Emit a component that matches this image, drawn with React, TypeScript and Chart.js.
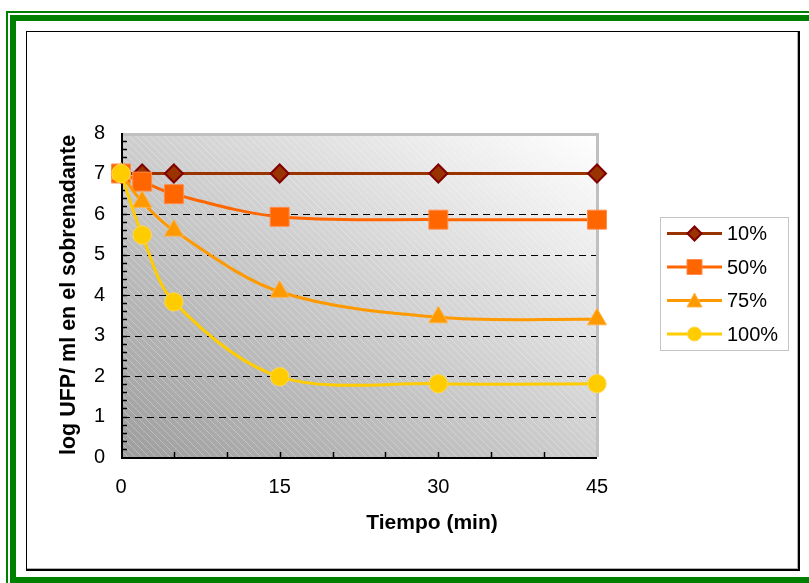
import React, { useEffect, useRef } from "react";
import { Chart, registerables } from "chart.js";

Chart.register(...registerables);

// Tiempo de muestreo (min)
const tiempos = [0, 2, 5, 15, 30, 45];
// log UFP/ml en el sobrenadante, una serie por concentración
const serie10 = [7, 7, 7, 7, 7, 7];
const serie50 = [7, 6.8, 6.49, 5.93, 5.86, 5.86];
const serie75 = [7, 6.3, 5.59, 4.08, 3.45, 3.4];
const serie100 = [7, 5.48, 3.83, 1.98, 1.81, 1.81];
const nombres = ["10%", "50%", "75%", "100%"];
const etiquetasX = [0, 15, 30, 45];
const etiquetasY = [0, 1, 2, 3, 4, 5, 6, 7, 8];

const FUENTE = '"Liberation Sans", Arial, Helvetica, sans-serif';

type Forma = "rectRot" | "rect" | "triangle" | "circle";

const estilos: { color: string; relleno: string; borde: string; forma: Forma; radio: number; bordeAncho: number }[] = [
  { color: "#993300", relleno: "#993300", borde: "#800000", forma: "rectRot", radio: 9, bordeAncho: 2 },
  { color: "#FF6600", relleno: "#FF6600", borde: "#FF8C4A", forma: "rect", radio: 13.4, bordeAncho: 1 },
  { color: "#FF9900", relleno: "#FF9900", borde: "#FFB347", forma: "triangle", radio: 11, bordeAncho: 1 },
  { color: "#FFCC00", relleno: "#FFCC00", borde: "#FFD84D", forma: "circle", radio: 9.2, bordeAncho: 1 },
];

const series = [serie10, serie50, serie75, serie100];

function marcador(ctx: CanvasRenderingContext2D, forma: Forma, cx: number, cy: number, tam: number) {
  ctx.beginPath();
  if (forma === "rectRot") {
    const r = tam / 2;
    ctx.moveTo(cx - r, cy);
    ctx.lineTo(cx, cy - r);
    ctx.lineTo(cx + r, cy);
    ctx.lineTo(cx, cy + r);
    ctx.closePath();
  } else if (forma === "rect") {
    ctx.rect(cx - tam / 2, cy - tam / 2, tam, tam);
  } else if (forma === "triangle") {
    const h = (tam * Math.sqrt(3)) / 2;
    ctx.moveTo(cx, cy - h / 2 - 1);
    ctx.lineTo(cx + tam / 2, cy + h / 2);
    ctx.lineTo(cx - tam / 2, cy + h / 2);
    ctx.closePath();
  } else {
    ctx.arc(cx, cy, tam / 2, 0, Math.PI * 2);
  }
}

const decorado = {
  id: "decorado",
  beforeDatasetsDraw(chart: any) {
    const { ctx, chartArea: a } = chart;
    const x = chart.scales.x;
    const y = chart.scales.y;
    ctx.save();

    // fondo degradado en diagonal
    ctx.save();
    ctx.translate(a.left, a.top);
    ctx.scale(a.right - a.left, a.bottom - a.top);
    const g = ctx.createLinearGradient(0, 1, 1, 0);
    g.addColorStop(0, "#9d9d9d");
    g.addColorStop(1, "#ffffff");
    ctx.fillStyle = g;
    ctx.fillRect(0, 0, 1, 1);
    ctx.restore();

    // rayado diagonal tenue
    ctx.save();
    ctx.beginPath();
    ctx.rect(a.left, a.top, a.right - a.left, a.bottom - a.top);
    ctx.clip();
    ctx.strokeStyle = "rgba(255,255,255,0.28)";
    ctx.lineWidth = 1;
    ctx.beginPath();
    const alto = a.bottom - a.top;
    for (let k = -alto; k < a.right - a.left; k += 7) {
      ctx.moveTo(a.left + k, a.top);
      ctx.lineTo(a.left + k + alto, a.bottom);
    }
    ctx.stroke();
    ctx.restore();

    // líneas de división discontinuas
    ctx.strokeStyle = "#000";
    ctx.lineWidth = 1;
    ctx.setLineDash([7, 5]);
    for (const v of etiquetasY) {
      if (v === y.min || v === y.max) continue;
      const py = Math.round(y.getPixelForValue(v)) + 0.5;
      ctx.beginPath();
      ctx.moveTo(a.left + 2, py);
      ctx.lineTo(a.right - 1, py);
      ctx.stroke();
    }
    ctx.setLineDash([]);

    // borde gris superior y derecho
    ctx.strokeStyle = "#c0c0c0";
    ctx.lineWidth = 3;
    ctx.beginPath();
    ctx.moveTo(a.left, a.top + 1.5);
    ctx.lineTo(a.right + 0.5, a.top + 1.5);
    ctx.lineTo(a.right + 0.5, a.bottom);
    ctx.stroke();

    // ejes
    ctx.strokeStyle = "#000";
    ctx.lineWidth = 2;
    ctx.beginPath();
    ctx.moveTo(a.left + 1, a.top);
    ctx.lineTo(a.left + 1, a.bottom + 1);
    ctx.lineTo(a.right, a.bottom + 1);
    ctx.stroke();

    // marcas secundarias del eje Y (cada 0,2)
    ctx.lineWidth = 1.5;
    ctx.beginPath();
    for (let i = 1; i < 40; i++) {
      const py = Math.round(y.getPixelForValue(i * 0.2)) + 0.5;
      ctx.moveTo(a.left, py);
      ctx.lineTo(a.left + 6, py);
    }
    ctx.stroke();

    // marcas del eje X (cada 5 min)
    ctx.lineWidth = 1.5;
    ctx.beginPath();
    for (let t = 5; t < 45; t += 5) {
      const px = Math.round(x.getPixelForValue(t)) + 0.5;
      ctx.moveTo(px, a.bottom);
      ctx.lineTo(px, a.bottom - 5);
    }
    ctx.stroke();

    ctx.restore();
  },
  afterDraw(chart: any) {
    const { ctx } = chart;
    ctx.save();

    // título del eje X
    ctx.fillStyle = "#000";
    ctx.font = `bold 21px ${FUENTE}`;
    ctx.textAlign = "center";
    ctx.textBaseline = "alphabetic";
    ctx.fillText("Tiempo (min)", 432, 529);

    // leyenda
    const lx = 660, ly = 217, lw = 128, lh = 133;
    ctx.fillStyle = "#fff";
    ctx.fillRect(lx, ly, lw, lh);
    ctx.strokeStyle = "#c4c4c4";
    ctx.lineWidth = 1;
    ctx.strokeRect(lx + 0.5, ly + 0.5, lw, lh);
    ctx.font = `20px ${FUENTE}`;
    ctx.textAlign = "left";
    ctx.textBaseline = "middle";
    nombres.forEach((nombre, i) => {
      const e = estilos[i];
      const fy = ly + 16.5 + i * 33.5;
      ctx.strokeStyle = e.color;
      ctx.lineWidth = 3;
      ctx.beginPath();
      ctx.moveTo(lx + 7, fy);
      ctx.lineTo(lx + 62, fy);
      ctx.stroke();
      const tam = e.forma === "rect" ? 15 : e.forma === "triangle" ? 15 : 14;
      marcador(ctx, e.forma, lx + 34.5, fy, tam);
      ctx.fillStyle = e.relleno;
      ctx.fill();
      ctx.strokeStyle = e.borde;
      ctx.lineWidth = e.bordeAncho;
      ctx.stroke();
      ctx.fillStyle = "#000";
      ctx.fillText(nombre, lx + 67, fy + 1);
    });

    ctx.restore();
  },
};

export default function App() {
  const ref = useRef<HTMLCanvasElement | null>(null);

  useEffect(() => {
    if (!ref.current) return;
    const chart = new Chart(ref.current, {
      type: "line",
      data: {
        datasets: series.map((s, i) => ({
          label: nombres[i],
          data: tiempos.map((t, j) => ({ x: t, y: s[j] })),
          borderColor: estilos[i].color,
          borderWidth: 3,
          backgroundColor: estilos[i].relleno,
          pointBackgroundColor: estilos[i].relleno,
          pointBorderColor: estilos[i].borde,
          pointBorderWidth: estilos[i].bordeAncho,
          pointStyle: estilos[i].forma,
          pointRadius: estilos[i].radio,
          pointHoverRadius: estilos[i].radio,
          tension: 0.33,
          fill: false,
          clip: false as any,
          order: series.length - 1 - i,
        })),
      },
      options: {
        responsive: false,
        animation: false,
        devicePixelRatio: 1,
        layout: { padding: { top: 133, right: 212, left: 0, bottom: 0 } },
        plugins: { legend: { display: false }, tooltip: { enabled: false } },
        events: [],
        scales: {
          x: {
            type: "linear",
            min: 0,
            max: 45,
            afterBuildTicks: (s: any) => {
              s.ticks = etiquetasX.map((v) => ({ value: v }));
            },
            afterFit: (s: any) => {
              s.height = 126;
            },
            grid: { display: false, drawTicks: false },
            border: { display: false },
            ticks: {
              padding: 18,
              maxRotation: 0,
              autoSkip: false,
              color: "#000",
              font: { size: 20, family: FUENTE },
            },
          },
          y: {
            type: "linear",
            min: 0,
            max: 8,
            afterBuildTicks: (s: any) => {
              s.ticks = etiquetasY.map((v) => ({ value: v }));
            },
            afterFit: (s: any) => {
              s.width = 121;
            },
            grid: { display: false, drawTicks: false },
            border: { display: false },
            ticks: {
              padding: 16,
              autoSkip: false,
              color: "#000",
              font: { size: 20, family: FUENTE },
            },
            title: {
              display: true,
              text: "log UFP/ ml en el sobrenadante",
              color: "#000",
              font: { size: 21.5, weight: "bold", family: FUENTE },
              padding: { top: 56, bottom: 0 },
            },
          },
        },
      },
      plugins: [decorado],
    } as any);
    return () => chart.destroy();
  }, []);

  return (
    <div
      style={{
        position: "fixed",
        left: 0,
        top: 0,
        width: 809,
        height: 583,
        overflow: "hidden",
        background: "#fff",
      }}
    >
      <div
        style={{
          position: "absolute",
          left: 6,
          top: 11,
          width: 840,
          height: 600,
          border: "2px solid #008000",
          boxSizing: "border-box",
        }}
      />
      <div
        style={{
          position: "absolute",
          left: 10,
          top: 15,
          width: 840,
          height: 568,
          border: "6px solid #008000",
          boxSizing: "border-box",
        }}
      />
      <div
        style={{
          position: "absolute",
          left: 26,
          top: 31,
          width: 774,
          height: 540,
          border: "1px solid #000",
          borderRightWidth: 2,
          borderBottomWidth: 2,
          boxShadow: "inset -1px -1px 0 #b0b0b0",
          boxSizing: "border-box",
        }}
      />
      <canvas
        ref={ref}
        width={809}
        height={583}
        style={{ position: "absolute", left: 0, top: 0, width: 809, height: 583 }}
      />
    </div>
  );
}
